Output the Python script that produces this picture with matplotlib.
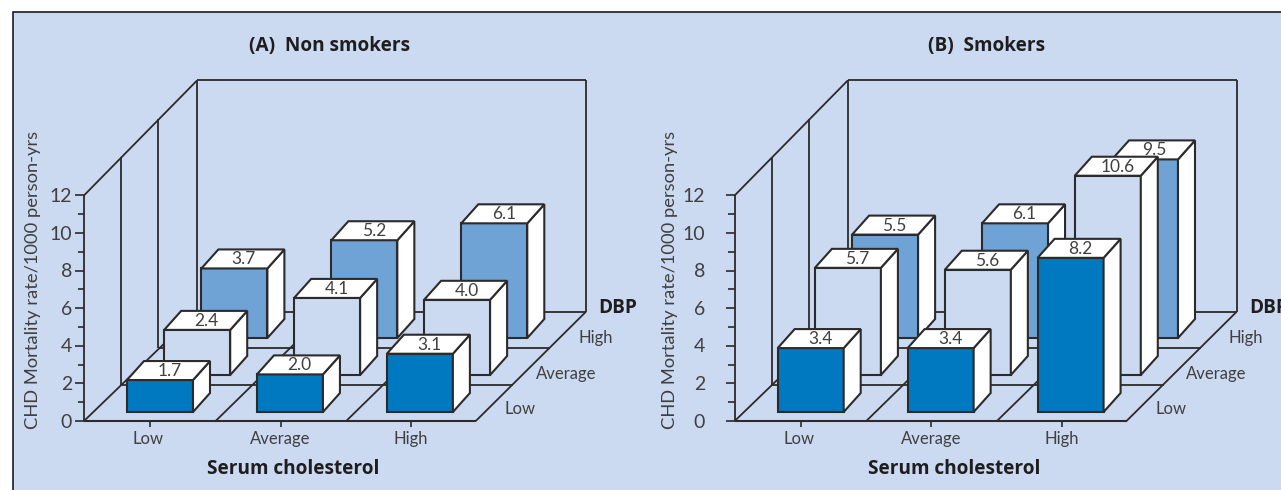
import matplotlib
matplotlib.use("Agg")
import matplotlib.pyplot as plt
from matplotlib.patches import Polygon, Rectangle

plt.rcParams['font.family'] = ['Lato', 'DejaVu Sans']

cholesterol = ["Low", "Average", "High"]
dbp_levels = ["Low", "Average", "High"]
y_ticks = [0, 2, 4, 6, 8, 10, 12]

non_smokers_low = [1.7, 2.0, 3.1]
non_smokers_avg = [2.4, 4.1, 4.0]
non_smokers_high = [3.7, 5.2, 6.1]

smokers_low = [3.4, 3.4, 8.2]
smokers_avg = [5.7, 5.6, 10.6]
smokers_high = [5.5, 6.1, 9.5]

PANEL = "#CBDAF0"
INK = "#2B2A2C"
TEXT = "#403F41"
HEAVY = "#1E1D1F"
ROW_COLOURS = ["#0079C1", PANEL, "#6FA3D6"]

# Oblique projection constants, in figure pixels
CELL_W = 130.6
ROW_DX, ROW_DY = 37.2, 36.4
UNIT = 18.8
BAR_W = 66
BAR_DX, BAR_DY = 17, 19
BAR_OFFSET_X, BAR_OFFSET_Y = 43, 9

# Offsets of the depth labels from the origin of each panel
DBP_LABEL_DX = [436, 482, 511.5]
DBP_LABEL_DY = [-12, -47, -83]

fig = plt.figure(figsize=(12.81, 4.9), dpi=100, facecolor="white")
ax = fig.add_axes([0, 0, 1, 1])
ax.set_xlim(0, 1281)
ax.set_ylim(490, 0)
ax.axis("off")

ax.add_patch(Rectangle((12.5, 12.5), 1290, 500, fc=PANEL, ec=HEAVY, lw=1.2, zorder=0))


def line(xs, ys, lw=1.3, z=1):
    ax.plot(xs, ys, color=INK, lw=lw, solid_capstyle="butt", zorder=z)


def draw_frame(x0, y0, tick_gap):
    depth_rows = len(dbp_levels)
    span = CELL_W * len(cholesterol)
    top = y0 - 12 * UNIT
    back_x = x0 + depth_rows * ROW_DX + 1.5
    # y axis, floor edge and ticks
    line([x0, x0], [y0, top])
    line([x0, x0 + span], [y0, y0], 1.5)
    for v in range(13):
        length = 9 if v % 2 == 0 else 6.5
        line([x0 - length, x0], [y0 - v * UNIT] * 2, 1.2)
    for v in y_ticks:
        ax.text(x0 - tick_gap, y0 - v * UNIT + 1, str(v), ha="right", va="center",
                fontsize=14, color=TEXT, zorder=2)
    # walls receding from the y axis
    line([x0, back_x], [top, top - 115])
    line([x0, back_x], [y0, y0 - depth_rows * ROW_DY])
    for r in range(1, depth_rows):
        fx = x0 + r * ROW_DX
        fy = y0 - r * ROW_DY
        line([fx, fx], [fy, top - r * 38.2])
        line([fx, fx + span], [fy, fy])
    by = y0 - depth_rows * ROW_DY
    line([back_x, back_x], [by, top - 115])
    line([back_x, back_x + span - 3], [by, by])
    line([back_x, back_x + span - 3], [top - 115, top - 115])
    line([back_x + span - 3, back_x + span - 3], [by, top - 115])
    # floor grid
    line([x0 + span, back_x + span - 3], [y0, by])
    for c in range(1, len(cholesterol)):
        fx = x0 + c * CELL_W + 1
        line([fx, fx + depth_rows * ROW_DX], [y0, by])
    # category ticks and labels
    for c, name in enumerate(cholesterol):
        tx = x0 + 66 + c * CELL_W
        line([tx, tx], [y0, y0 + 6], 1.2)
        ax.text(tx - 2 if c == 0 else tx, y0 + 18, name, ha="center", va="center",
                fontsize=12, color=TEXT, zorder=2)
    for r, name in enumerate(dbp_levels):
        ax.text(x0 + DBP_LABEL_DX[r], y0 + DBP_LABEL_DY[r], name, ha="center",
                va="center", fontsize=12, color=TEXT, zorder=2)


def draw_bar(x0, y0, col, row, value, colour, z):
    left = x0 + BAR_OFFSET_X + col * CELL_W * 0.995 + row * ROW_DX
    base = y0 - BAR_OFFSET_Y - row * 37
    top = base - value * UNIT
    right = left + BAR_W
    kw = dict(ec=INK, lw=1.5, joinstyle="miter", zorder=z)
    ax.add_patch(Polygon([(left, base), (right, base), (right, top), (left, top)], fc=colour, **kw))
    ax.add_patch(Polygon([(right, base), (right + BAR_DX, base - BAR_DY),
                          (right + BAR_DX, top - BAR_DY), (right, top)], fc="white", **kw))
    ax.add_patch(Polygon([(left, top), (right, top), (right + BAR_DX, top - BAR_DY),
                          (left + BAR_DX, top - BAR_DY)], fc="white", **kw))
    ax.text(left + BAR_W / 2 + BAR_DX / 2 + 1, top - BAR_DY / 2 + 0.5, f"{value:.1f}", ha="center", va="center",
            fontsize=12.5, color=TEXT, zorder=z + 0.1)


def draw_panel(x0, y0, title, rows, tick_gap, title_dx, xlabel_dx, ylabel_dx):
    draw_frame(x0, y0, tick_gap)
    z = 3
    for row in reversed(range(len(rows))):
        for col, value in enumerate(rows[row]):
            draw_bar(x0, y0, col, row, value, ROW_COLOURS[row], z)
            z += 1
    bold = dict(family=["Open Sans", "DejaVu Sans"], ha="center", va="center",
                fontsize=13.7, fontweight="bold", color=HEAVY)
    ax.text(x0 + title_dx, 46.5, title, **bold)
    ax.text(x0 + xlabel_dx, 468.5, "Serum cholesterol", **bold)
    ax.text(x0 + 533.5, 308, "DBP", **bold)
    ax.text(x0 + ylabel_dx, y0 - 141, "CHD Mortality rate/1000 person-yrs", rotation=90, ha="center", va="center",
            fontsize=13.2, color=TEXT)


draw_panel(84, 421, "(A)  Non smokers", [non_smokers_low, non_smokers_avg, non_smokers_high],
           12, 246, 209, -51)
draw_panel(734.7, 421, "(B)  Smokers", [smokers_low, smokers_avg, smokers_high],
           29.5, 252, 219.5, -64.5)

fig.savefig("out.png", dpi=100)
